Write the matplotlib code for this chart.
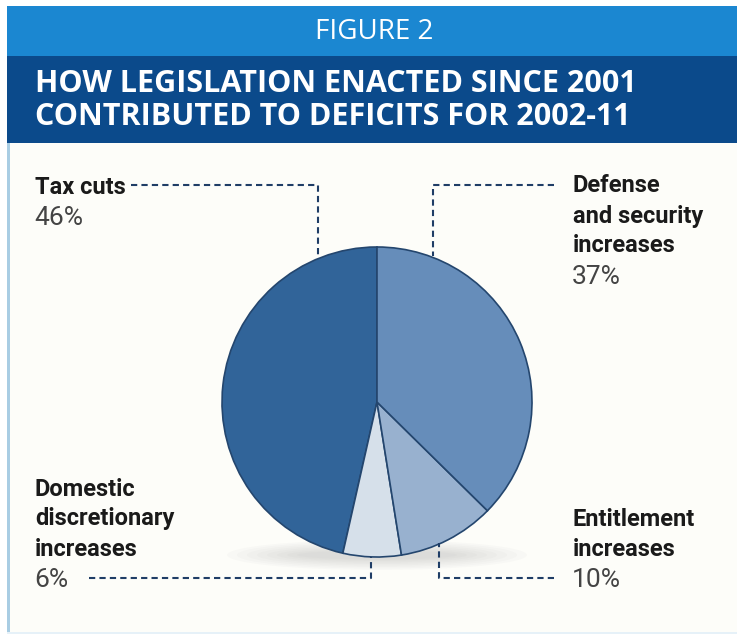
import matplotlib
matplotlib.use("Agg")
import matplotlib.pyplot as plt
from matplotlib.patches import Rectangle, Ellipse

# ---- data ----
categories = ["Tax cuts", "Domestic\ndiscretionary\nincreases", "Entitlement\nincreases",
              "Defense\nand security\nincreases"]
shares = [46, 6, 10, 37]
share_labels = ["46%", "6%", "10%", "37%"]
colors = ["#316499", "#d6e0ea", "#98b1cf", "#668dba"]

title_top = "FIGURE 2"
title_main = ["HOW LEGISLATION ENACTED SINCE 2001", "CONTRIBUTED TO DEFICITS FOR 2002-11"]

W, H = 737, 637
fig = plt.figure(figsize=(W / 100, H / 100), dpi=100)
fig.patch.set_facecolor("white")
ax = fig.add_axes([0, 0, 1, 1])

def Y(py):
    return H - py

TITLE_FONT = ["Open Sans", "DejaVu Sans"]
LABEL_FONT = ["Roboto", "DejaVu Sans"]

# backgrounds
ax.add_patch(Rectangle((7, Y(634)), W - 7, 634 - 142, facecolor="#fdfdf9", edgecolor="none", zorder=0))
ax.add_patch(Rectangle((7, Y(634)), 3, 634 - 142, facecolor="#a9cde3", edgecolor="none", zorder=1))
ax.add_patch(Rectangle((7, Y(634)), W - 7, 2, facecolor="#e6f1f8", edgecolor="none", zorder=1))
ax.add_patch(Rectangle((7, Y(56)), W - 7, 50, facecolor="#1b87d1", edgecolor="none", zorder=1))
ax.add_patch(Rectangle((7, Y(143)), W - 7, 87, facecolor="#0b4a8b", edgecolor="none", zorder=1))

ax.text(374, Y(32), title_top, color="white", fontsize=20, family=TITLE_FONT,
        ha="center", va="center", zorder=5)
ax.text(35, Y(84), title_main[0], color="white", fontsize=22, fontweight="bold",
        family=TITLE_FONT, ha="left", va="center", zorder=5)
ax.text(35, Y(117), title_main[1], color="white", fontsize=22, fontweight="bold",
        family=TITLE_FONT, ha="left", va="center", zorder=5)

# soft shadow under pie
cx, cy, r = 377, 402, 155
for i in range(8):
    ax.add_patch(Ellipse((cx, Y(555)), 300 - i * 20, 30 - i * 3,
                         facecolor="#8a8a8a", edgecolor="none", alpha=0.035, zorder=2))

wedges, _ = ax.pie(shares, colors=colors, startangle=90, counterclock=True,
                   center=(cx, Y(cy)), radius=r,
                   wedgeprops=dict(edgecolor="#24466e", linewidth=1.2))
for w in wedges:
    w.set_zorder(3)

ax.set_xlim(0, W)
ax.set_ylim(0, H)
ax.set_aspect("equal")
ax.axis("off")

# labels
lead_kw = dict(color="#1f3d66", linewidth=1.5, linestyle=(0, (3, 2)), zorder=4)
label_pos = {
    "Tax cuts": (35, 187),
    "Defense\nand security\nincreases": (573, 186),
    "Domestic\ndiscretionary\nincreases": (35, 489),
    "Entitlement\nincreases": (573, 519),
}
step = 30
for cat, lab in zip(categories, share_labels):
    x0, y0 = label_pos[cat]
    lines = cat.split("\n")
    for k, ln in enumerate(lines):
        ax.text(x0, Y(y0 + k * step), ln, fontsize=17, fontweight="bold", color="#1a1a1a",
                family=LABEL_FONT, ha="left", va="center", zorder=5)
    ax.text(x0 - 1, Y(y0 + len(lines) * step + 1), lab, fontsize=19, color="#444444",
            family=LABEL_FONT, ha="left", va="center", zorder=5)

# leader lines
ax.plot([131, 318, 318], [Y(185), Y(185), Y(257)], **lead_kw)
ax.plot([554, 433, 433], [Y(185), Y(185), Y(256)], **lead_kw)
ax.plot([89, 371, 371], [Y(578), Y(578), Y(557)], **lead_kw)
ax.plot([554, 439, 439], [Y(578), Y(578), Y(543)], **lead_kw)

fig.savefig("out.png", dpi=100, facecolor="white")
